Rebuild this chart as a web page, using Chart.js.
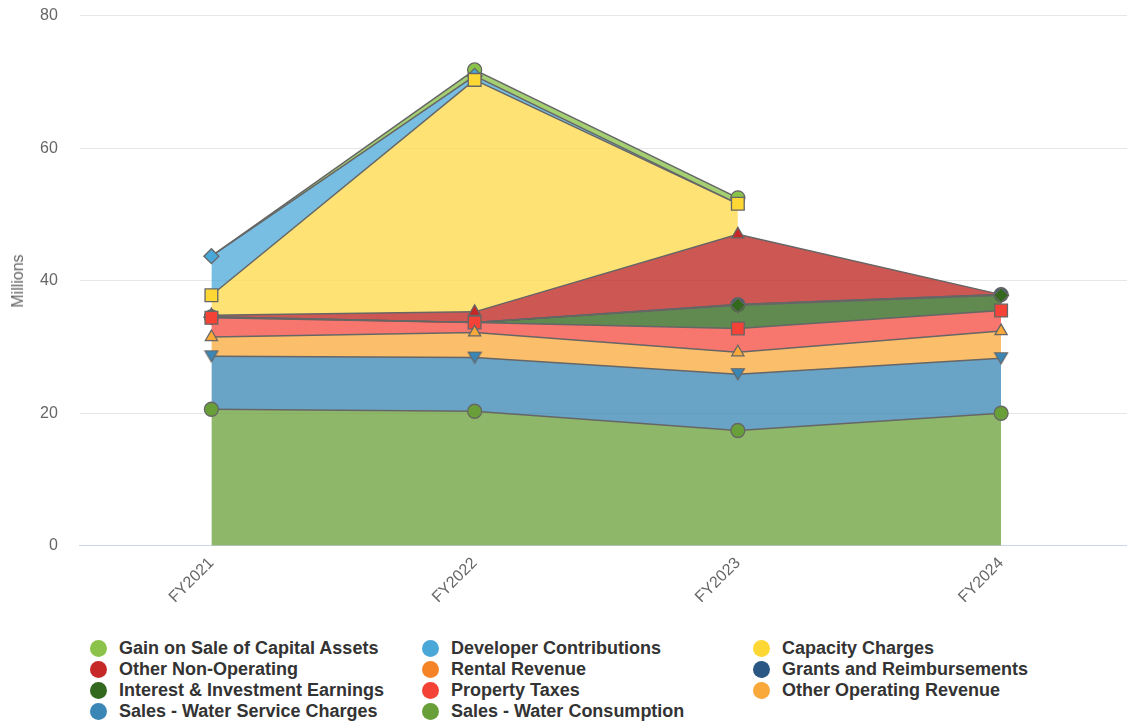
<!DOCTYPE html>
<html>
<head>
<meta charset="utf-8">
<script src="https://cdn.jsdelivr.net/npm/chart.js@4"></script>
<style>
  body { margin: 0; background: #fff; font-family: "Liberation Sans", Arial, sans-serif; overflow: hidden; }
  #wrap { position: relative; width: 1127px; height: 724px; overflow: hidden; }
  #box { position: absolute; left: 0; top: -16px; width: 1143px; height: 631px; }
  #ytitle { position: absolute; left: 18px; top: 281px; transform: translate(-50%, -50%) rotate(-90deg); font-size: 16px; color: #666; white-space: nowrap; }
  #legend { position: absolute; left: 0; top: 638px; width: 1127px; }
  .item { position: absolute; height: 21px; line-height: 21px; font-weight: bold; font-size: 18px; color: #333; white-space: nowrap; }
  .dot { position: absolute; left: 0; top: 2px; width: 17px; height: 17px; border-radius: 50%; }
  .item span.txt { position: absolute; left: 29px; top: 0; }
</style>
</head>
<body>
<div id="wrap">
  <div id="box"><canvas id="myChart"></canvas></div>
  <div id="ytitle">Millions</div>
  <div id="legend"></div>
</div>
<script>
const years = ['FY2021', 'FY2022', 'FY2023', 'FY2024'];

// values in millions, stacked from bottom up
const consumption   = [20.6, 20.3, 17.4, 20.0];
const serviceChg    = [8.0, 8.1, 8.5, 8.3];
const otherOper     = [2.9, 3.8, 3.3, 4.1];
const propTaxes     = [2.9, 1.5, 3.6, 3.1];
const interest      = [0.1, 0, 3.5, 2.3];
const grants        = [0.05, 0, 0.1, 0.1];
const rental        = [0, 0, 0, 0];
const otherNonOp    = [0.25, 1.6, 10.6, 0];
const capacity      = [3.0, 35.0, 4.6, null];
const developer     = [5.9, 0.6, 0, null];
const gainOnSale    = [0, 0.9, 0.9, null];

const series = [
  { label: 'Sales - Water Consumption', data: consumption, color: '#689f38', fill: 'rgba(104,159,56,0.75)', shape: 'circle' },
  { label: 'Sales - Water Service Charges', data: serviceChg, color: '#3a87b5', fill: 'rgba(58,135,181,0.76)', shape: 'triangle-down' },
  { label: 'Other Operating Revenue', data: otherOper, color: '#f9a83a', fill: 'rgba(249,168,58,0.75)', shape: 'triangle' },
  { label: 'Property Taxes', data: propTaxes, color: '#f44336', fill: 'rgba(244,67,54,0.72)', shape: 'rect' },
  { label: 'Interest & Investment Earnings', data: interest, color: '#33691e', fill: 'rgba(51,105,30,0.78)', shape: 'rectRot' },
  { label: 'Grants and Reimbursements', data: grants, color: '#2a5783', fill: 'rgba(42,87,131,0.75)', shape: 'circle' },
  { label: 'Rental Revenue', data: rental, color: '#f58426', fill: 'rgba(245,132,38,0.75)', shape: 'triangle-down' },
  { label: 'Other Non-Operating', data: otherNonOp, color: '#c62828', fill: 'rgba(190,40,35,0.78)', shape: 'triangle' },
  { label: 'Capacity Charges', data: capacity, color: '#fdd835', fill: 'rgba(254,218,77,0.78)', shape: 'rect' },
  { label: 'Developer Contributions', data: developer, color: '#4aa8d8', fill: 'rgba(74,168,216,0.75)', shape: 'rectRot' },
  { label: 'Gain on Sale of Capital Assets', data: gainOnSale, color: '#8bc34a', fill: 'rgba(139,195,74,0.78)', shape: 'circle' }
];

// triangle-down marker
function downTri(color) {
  const c = document.createElement('canvas');
  c.width = 16; c.height = 14;
  const g = c.getContext('2d');
  g.beginPath();
  g.moveTo(1.5, 1.5); g.lineTo(14.5, 1.5); g.lineTo(8, 12.5); g.closePath();
  g.fillStyle = color; g.fill();
  g.strokeStyle = '#666'; g.lineWidth = 1.2; g.stroke();
  return c;
}

const datasets = series.map((s, i) => {
  let shape = s.shape;
  if (shape == 'triangle-down') shape = downTri(s.color);
  let size = s.shape == 'rect' ? 9 : (s.shape == 'rectRot' ? 7.5 : 7);
  return {
    label: s.label,
    data: s.data,
    fill: i == 0 ? 'origin' : '-1',
    backgroundColor: s.fill,
    borderColor: '#666',
    borderWidth: 1.5,
    pointStyle: shape,
    pointBackgroundColor: s.color,
    pointBorderColor: '#666',
    pointBorderWidth: 1.3,
    pointRadius: ctx => (ctx.raw ? size : 0),
    pointHoverRadius: ctx => (ctx.raw ? size : 0),
    tension: 0
  };
});

const ctx = document.getElementById('myChart');
new Chart(ctx, {
  type: 'line',
  data: { labels: years, datasets: datasets },
  options: {
    responsive: true,
    maintainAspectRatio: false,
    animation: false,
    layout: { padding: { top: 8, right: 0, left: 18, bottom: 0 } },
    plugins: {
      legend: { display: false },
      tooltip: { enabled: false }
    },
    scales: {
      x: {
        offset: true,
        grid: { display: false, drawTicks: false },
        border: { color: '#ccd6eb' },
        ticks: {
          color: '#666',
          font: { family: 'Liberation Sans', size: 16 },
          minRotation: 45,
          maxRotation: 45,
          padding: 8
        }
      },
      y: {
        stacked: true,
        min: 0,
        max: 80,
        grid: {
          color: c => (c.tick.value == 0 ? '#ccd6eb' : '#e6e6e6'),
          drawTicks: false
        },
        border: { display: false },
        ticks: {
          stepSize: 20,
          color: '#666',
          font: { family: 'Liberation Sans', size: 16 },
          padding: 22
        }
      }
    }
  }
});

// legend in 3 columns, same order as the reference (top series first)
const legendBox = document.getElementById('legend');
const colX = [90, 422, 753];
series.slice().reverse().forEach((s, i) => {
  const it = document.createElement('div');
  it.className = 'item';
  it.style.left = colX[i % 3] + 'px';
  it.style.top = (Math.floor(i / 3) * 21) + 'px';
  it.innerHTML = '<span class="dot" style="background:' + s.color + '"></span><span class="txt"></span>';
  it.querySelector('.txt').textContent = s.label;
  legendBox.appendChild(it);
});
</script>
</body>
</html>
